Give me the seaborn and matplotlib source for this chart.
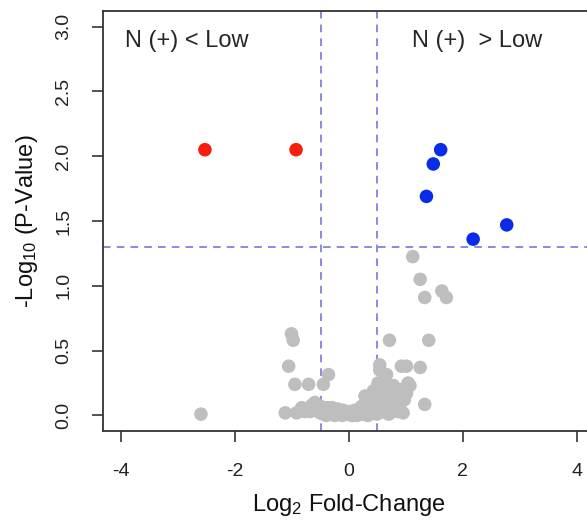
"""
Volcano plot: N (+) vs Low, recreated with seaborn.
"""
import matplotlib
matplotlib.use('Agg')
import matplotlib.pyplot as plt
import pandas as pd
import seaborn as sns

# Significant genes, lower in N (+)
DOWN_FC = [-2.53, -0.93]
DOWN_P = [2.05, 2.05]

# Significant genes, higher in N (+)
UP_FC = [1.61, 1.48, 1.36, 2.18, 2.77]
UP_P = [2.05, 1.94, 1.69, 1.36, 1.47]

# Non-significant genes
NS_FC = [1.12, 1.25, 1.33, 1.63, 1.71, -1.01, -0.98, 0.71, 1.40,
         -1.06, -0.95, -0.71, -0.45, -0.36, -2.60, -1.12, -0.92, -0.74,
         -0.60, -0.51, -0.33, -0.22, -0.04, 0.13, 0.31, 0.37, 0.43, 0.51,
         0.54, 0.54, 0.66, 0.63, 0.72, 0.84, 0.92, 1.01, 1.25, 1.04, 1.01,
         0.89, 0.95, 1.33, 0.66, 0.49, 0.22, 0.28, -0.68, -0.83, 0.78, 1.07,
         -0.55, -0.45, -0.38, -0.28, -0.15, -0.10, 0.02, 0.06, 0.20, 0.25,
         0.38, 0.44, 0.58, 0.75, 0.82, -0.40, -0.20, 0.10, 0.35, 0.60, 0.70,
         -0.85, -0.78, -0.65, -0.58, -0.50, -0.44, -0.35, -0.30, -0.25,
         -0.18, -0.12, -0.06, 0.00, 0.05, 0.09, 0.14, 0.17, 0.23, 0.27,
         0.33, 0.40, 0.47, 0.52, 0.57, 0.63, 0.68, 0.74, 0.80, 0.86,
         0.40, 0.46, 0.50, 0.58, 0.62, 0.70, 0.47, 0.55, 0.90, 0.97]
NS_P = [1.225, 1.05, 0.91, 0.96, 0.91, 0.63, 0.58, 0.58, 0.58,
        0.38, 0.24, 0.24, 0.24, 0.315, 0.01, 0.02, 0.02, 0.05,
        0.10, 0.02, 0.05, 0.02, 0.01, 0.01, 0.02, 0.12, 0.19, 0.25,
        0.35, 0.39, 0.315, 0.23, 0.15, 0.19, 0.38, 0.38, 0.37, 0.25, 0.17,
        0.085, 0.02, 0.085, 0.02, 0.01, 0.07, 0.15, 0.03, 0.06, 0.23, 0.23,
        0.04, 0.01, 0.06, 0.03, 0.01, 0.04, 0.03, 0.00, 0.03, 0.05,
        0.06, 0.09, 0.07, 0.03, 0.10, 0.00, 0.05, 0.04, 0.02, 0.12, 0.01,
        0.04, 0.03, 0.08, 0.06, 0.07, 0.05, 0.02, 0.06, 0.00,
        0.03, 0.00, 0.02, 0.01, 0.00, 0.02, 0.00, 0.03, 0.01, 0.02,
        0.00, 0.02, 0.04, 0.06, 0.03, 0.05, 0.08, 0.04, 0.06, 0.03,
        0.14, 0.12, 0.18, 0.13, 0.21, 0.10, 0.08, 0.16, 0.20, 0.12]

FC_CUT = 0.5
P_CUT = 1.301

# Build one table for seaborn
DF = pd.concat([
    pd.DataFrame({'fc': NS_FC, 'p': NS_P, 'grp': 'ns'}),
    pd.DataFrame({'fc': DOWN_FC, 'p': DOWN_P, 'grp': 'down'}),
    pd.DataFrame({'fc': UP_FC, 'p': UP_P, 'grp': 'up'}),
], ignore_index=True)

sns.set_style('white')
plt.rcParams['font.family'] = ['Liberation Sans', 'DejaVu Sans']
plt.rcParams['mathtext.fontset'] = 'custom'
plt.rcParams['mathtext.rm'] = 'Liberation Sans'
plt.rcParams['axes.unicode_minus'] = False

FIG = plt.figure(figsize=(5.87, 5.21), dpi=100)
AX = FIG.add_axes([103 / 587, 1 - 431 / 521, 492 / 587, 420 / 521])

sns.scatterplot(data=DF, x='fc', y='p', hue='grp',
                palette={'ns': '#bebebe', 'down': '#f51e0f', 'up': '#0a2be8'},
                s=95, linewidth=0, legend=False, ax=AX, zorder=3)

# thresholds
LINE_KW = dict(color='#6b6bd6', lw=1.1, linestyle=(0, (5, 4)), zorder=2)
AX.axhline(P_CUT, **LINE_KW)
AX.axvline(-FC_CUT, **LINE_KW)
AX.axvline(FC_CUT, **LINE_KW)

AX.set_xlim(-4.32, 4.32)
AX.set_ylim(-0.12, 3.12)
AX.set_xticks([-4, -2, 0, 2, 4])
AX.set_xticklabels(['-4', '-2', '0', '2', '4'])
AX.set_yticks([0.0, 0.5, 1.0, 1.5, 2.0, 2.5, 3.0])
AX.set_yticklabels(['0.0', '0.5', '1.0', '1.5', '2.0', '2.5', '3.0'],
                   rotation=90, va='center')

for side in AX.spines.values():
    side.set_color('#333333')
    side.set_linewidth(1.3)

AX.tick_params(axis='both', direction='out', length=8, width=1.2,
               color='#333333', labelsize=14, labelcolor='#222222',
               left=True, bottom=True)
AX.tick_params(axis='x', pad=15)
AX.tick_params(axis='y', pad=14)

AX.set_xlabel('Log$\\mathregular{_2}$ Fold-Change', fontsize=17,
              color='#111111', labelpad=9)
AX.set_ylabel('-Log$\\mathregular{_{10}}$ (P-Value)', fontsize=17,
              color='#111111', labelpad=11)

AX.text(-3.93, 2.89, 'N (+) < Low', fontsize=17, va='center', ha='left')
AX.text(1.10, 2.89, 'N (+)  > Low', fontsize=17, va='center', ha='left')

FIG.savefig('out.png', dpi=100)
